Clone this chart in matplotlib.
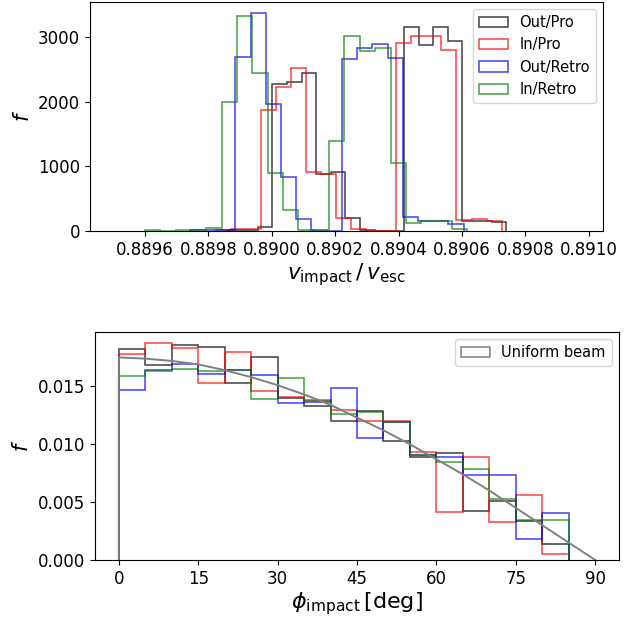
import numpy as np
import matplotlib

matplotlib.use("Agg")
import matplotlib.pyplot as plt
from matplotlib.patches import Patch
from matplotlib.ticker import FormatStrFormatter

labels = ["Out/Pro", "In/Pro", "Out/Retro", "In/Retro"]
colors = ["k", "r", "b", "g"]

# impact speed histograms: first bin edge, bin width, counts per bin
v_start = [0.889863, 0.889823, 0.889741, 0.889600]
v_width = [4.616e-5, 4.748e-5, 4.80e-5, 4.84e-5]
v_counts_out_pro = [15, 20, 66, 2270, 2306, 2445, 876, 916, 196, 15, 0, 0,
                    3155, 2873, 3155, 2939, 159, 159, 145]
v_counts_in_pro = [15, 25, 30, 1869, 2229, 2523, 916, 880, 196, 36, 0, 0,
                   2899, 3012, 3012, 2800, 170, 180, 150]
v_counts_out_retro = [20, 15, 20, 2692, 3372, 1961, 834, 180, 15, 0,
                      2662, 2832, 2883, 2667, 221, 159, 159, 110]
v_counts_in_retro = [15, 0, 15, 15, 40, 2000, 3320, 2445, 890, 325, 12, 0,
                     1390, 3010, 2785, 2820, 1055, 118, 160, 160, 36]
v_ticks = [0.8896, 0.8898, 0.8900, 0.8902, 0.8904, 0.8906, 0.8908, 0.8910]

# impact angle histograms, 5 degree bins
phi_edges = list(range(0, 90, 5))
f_out_pro = [0.01819, 0.01684, 0.01859, 0.01836, 0.01532, 0.01756, 0.01397,
             0.01333, 0.01202, 0.01290, 0.01032, 0.00888, 0.00928, 0.00420,
             0.00509, 0.00336, 0.00135]
f_in_pro = [0.01782, 0.01876, 0.01830, 0.01532, 0.01793, 0.01463, 0.01411,
            0.01385, 0.01292, 0.01198, 0.01204, 0.00937, 0.00414, 0.00888,
            0.00325, 0.00563, 0.00049]
f_out_retro = [0.01466, 0.01644, 0.01693, 0.01606, 0.01644, 0.01598, 0.01356,
               0.01362, 0.01486, 0.01052, 0.01190, 0.00908, 0.00891, 0.00736,
               0.00736, 0.00184, 0.00402]
f_in_retro = [0.01589, 0.01629, 0.01652, 0.01635, 0.01638, 0.01391, 0.01572,
              0.01370, 0.01259, 0.01279, 0.01193, 0.00910, 0.00848, 0.00790,
              0.00526, 0.00345, 0.00345]

# uniform beam reference curve
phi_beam = [0, 0, 5, 10, 15, 20, 25, 30, 35, 40, 45, 50, 55, 60, 65, 70, 75,
            80, 85, 90]
f_beam = [0.0, 0.0175, 0.0174, 0.0172, 0.0169, 0.0164, 0.0158, 0.0151, 0.0143,
          0.0134, 0.0123, 0.0112, 0.0100, 0.0087, 0.0074, 0.0060, 0.0045,
          0.0030, 0.0015, 0.0]
phi_ticks = [0, 15, 30, 45, 60, 75, 90]

LW = 1.1
ALPHA = 0.75

fig = plt.figure(figsize=(6.35, 6.18), dpi=100)
ax1 = fig.add_axes([0.1417, 0.6262, 0.8079, 0.3706])
ax2 = fig.add_axes([0.1496, 0.0939, 0.8252, 0.3689])

v_counts = [v_counts_out_pro, v_counts_in_pro, v_counts_out_retro,
            v_counts_in_retro]
for start, width, counts, color, label in zip(v_start, v_width, v_counts,
                                               colors, labels):
    edges = start + width * np.arange(len(counts) + 1)
    ax1.hist(edges[:-1] + 0.5 * width, bins=edges, weights=counts,
             histtype="step", color=color, lw=LW, alpha=ALPHA, label=label)

ax1.set_xlim(0.889426, 0.891045)
ax1.set_ylim(0, 3537)
ax1.set_xticks(v_ticks)
ax1.xaxis.set_major_formatter(FormatStrFormatter("%.4f"))
ax1.set_yticks([0, 1000, 2000, 3000])
ax1.tick_params(labelsize=12)
ax1.set_xlabel(r"$v_{\rm impact}\,/\,v_{\rm esc}$", fontsize=15.5, labelpad=2)
ax1.set_ylabel(r"$f$", fontsize=15)
ax1.legend(loc="upper right", fontsize=10.5)

f_series = [f_out_pro, f_in_pro, f_out_retro, f_in_retro]
for vals, color in zip(f_series, colors):
    centers = [e + 2.5 for e in phi_edges[:-1]]
    ax2.hist(centers, bins=phi_edges, weights=vals, histtype="step",
             color=color, lw=LW, alpha=ALPHA)
ax2.plot(phi_beam, f_beam, color="gray", lw=1.4)

ax2.set_xlim(-4.5, 94.5)
ax2.set_ylim(0, 0.0197)
ax2.set_xticks(phi_ticks)
ax2.set_yticks([0.0, 0.005, 0.010, 0.015])
ax2.yaxis.set_major_formatter(FormatStrFormatter("%.3f"))
ax2.tick_params(labelsize=12)
ax2.set_xlabel(r"$\phi_{\rm impact}\,[{\rm deg}]$", fontsize=16, labelpad=2)
ax2.set_ylabel(r"$f$", fontsize=15)
beam_handle = Patch(facecolor="none", edgecolor="gray", lw=LW)
ax2.legend([beam_handle], ["Uniform beam"], loc="upper right", fontsize=10.5)

fig.savefig("out.png", dpi=100)
